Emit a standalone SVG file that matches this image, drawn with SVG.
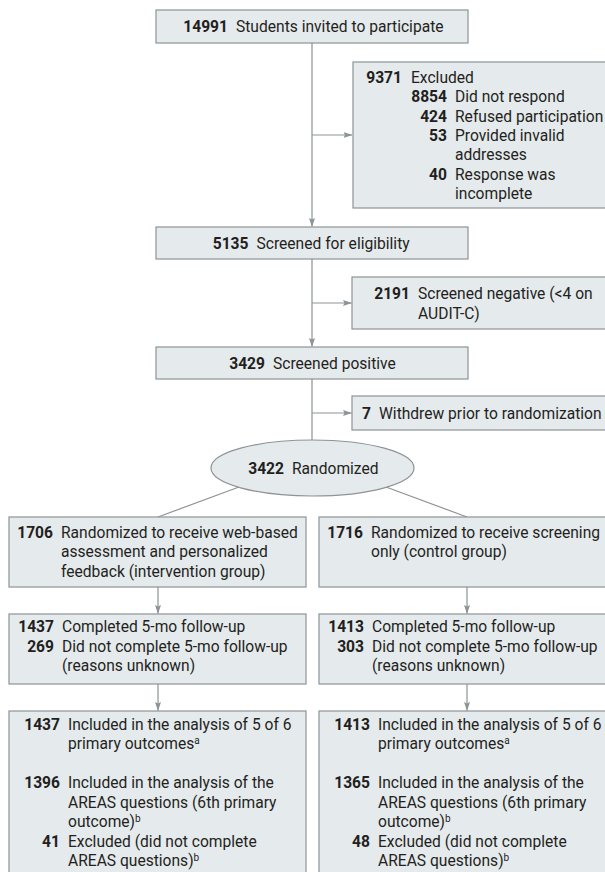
<svg xmlns="http://www.w3.org/2000/svg" width="605" height="872" viewBox="0 0 605 872">
<defs>
<style>
.box{fill:#e5eaed;stroke:#8e9396;stroke-width:1.2}
.ln{fill:none;stroke:#8e9396;stroke-width:1.2}
text{font-family:Roboto,"Liberation Sans",sans-serif;font-size:15.6px;fill:#231f20}
.n{font-weight:bold;text-anchor:end}
.sup{font-size:10px}
</style>
<marker id="ah" markerWidth="9" markerHeight="7" refX="8.5" refY="3.5" orient="auto" markerUnits="userSpaceOnUse">
<path d="M0,0.5 L9,3.5 L0,6.5 L1.5,3.5 z" fill="#8e9396"/>
</marker>
</defs>
<rect width="605" height="872" fill="#ffffff"/>

<g id="connectors">
<path class="ln" d="M312,43 V226.5" marker-end="url(#ah)"/>
<path class="ln" d="M312,135 H352" marker-end="url(#ah)"/>
<path class="ln" d="M312,259 V346.5" marker-end="url(#ah)"/>
<path class="ln" d="M312,303 H351.5" marker-end="url(#ah)"/>
<path class="ln" d="M312,379 V440"/>
<path class="ln" d="M312,413 H351.5" marker-end="url(#ah)"/>
<path class="ln" d="M239,487 L158,517"/>
<path class="ln" d="M386,487 L467,517"/>
<path class="ln" d="M158,587 V613.5" marker-end="url(#ah)"/>
<path class="ln" d="M467,587 V613.5" marker-end="url(#ah)"/>
<path class="ln" d="M158,684 V710.5" marker-end="url(#ah)"/>
<path class="ln" d="M467,684 V710.5" marker-end="url(#ah)"/>
</g>

<g id="invited">
<rect class="box" x="156" y="10" width="312" height="33"/>
<text x="228" y="32" class="n">14991</text>
<text x="236" y="32">Students invited to participate</text>
</g>

<g id="excluded">
<rect class="box" x="353" y="62" width="270" height="146"/>
<text x="402" y="83" class="n">9371</text>
<text x="411" y="83">Excluded</text>
<text x="447" y="102.3" class="n">8854</text>
<text x="455" y="102.3">Did not respond</text>
<text x="447" y="121.6" class="n">424</text>
<text x="455" y="121.6">Refused participation</text>
<text x="447" y="140.9" class="n">53</text>
<text x="455" y="140.9">Provided invalid</text>
<text x="455" y="160.2">addresses</text>
<text x="447" y="179.5" class="n">40</text>
<text x="455" y="179.5">Response was</text>
<text x="455" y="198.8">incomplete</text>
</g>

<g id="screened">
<rect class="box" x="156" y="227" width="312" height="32"/>
<text x="248.5" y="248.5" class="n">5135</text>
<text x="256.5" y="248.5">Screened for eligibility</text>
</g>

<g id="negative">
<rect class="box" x="352" y="277" width="270" height="52"/>
<text x="410" y="299" class="n">2191</text>
<text x="418" y="299">Screened negative (&lt;4 on</text>
<text x="418" y="318.5">AUDIT-C)</text>
</g>

<g id="positive">
<rect class="box" x="156" y="347" width="312" height="32"/>
<text x="265" y="368.5" class="n">3429</text>
<text x="273" y="368.5">Screened positive</text>
</g>

<g id="withdrew">
<rect class="box" x="352" y="396" width="270" height="34"/>
<text x="371" y="418.5" class="n">7</text>
<text x="379" y="418.5">Withdrew prior to randomization</text>
</g>

<g id="randomized">
<ellipse class="box" cx="312.5" cy="468" rx="101.5" ry="28"/>
<text x="284" y="473.5" class="n">3422</text>
<text x="292" y="473.5">Randomized</text>
</g>

<g id="intervention">
<rect class="box" x="9" y="517" width="297" height="70"/>
<text x="53" y="537.5" class="n">1706</text>
<text x="61" y="537.5">Randomized to receive web-based</text>
<text x="61" y="557">assessment and personalized</text>
<text x="61" y="576.5">feedback (intervention group)</text>
</g>

<g id="control">
<rect class="box" x="319" y="517" width="300" height="70"/>
<text x="363" y="537.5" class="n">1716</text>
<text x="371" y="537.5">Randomized to receive screening</text>
<text x="371" y="557">only (control group)</text>
</g>

<g id="followup-intervention">
<rect class="box" x="9" y="614" width="297" height="70"/>
<text x="54" y="632" class="n">1437</text>
<text x="62" y="632">Completed 5-mo follow-up</text>
<text x="54" y="651.5" class="n">269</text>
<text x="62" y="651.5">Did not complete 5-mo follow-up</text>
<text x="62" y="671">(reasons unknown)</text>
</g>

<g id="followup-control">
<rect class="box" x="319" y="614" width="300" height="70"/>
<text x="364" y="632" class="n">1413</text>
<text x="372" y="632">Completed 5-mo follow-up</text>
<text x="364" y="651.5" class="n">303</text>
<text x="372" y="651.5">Did not complete 5-mo follow-up</text>
<text x="372" y="671">(reasons unknown)</text>
</g>

<g id="analysis-intervention">
<rect class="box" x="9" y="711" width="297" height="175"/>
<text x="60" y="729.5" class="n">1437</text>
<text x="68" y="729.5">Included in the analysis of 5 of 6</text>
<text x="68" y="749">primary outcomes<tspan class="sup" dy="-5">a</tspan></text>
<text x="60" y="788" class="n">1396</text>
<text x="68" y="788">Included in the analysis of the</text>
<text x="68" y="807.5">AREAS questions (6th primary</text>
<text x="68" y="827">outcome)<tspan class="sup" dy="-5">b</tspan></text>
<text x="60" y="846.5" class="n">41</text>
<text x="68" y="846.5">Excluded (did not complete</text>
<text x="68" y="866">AREAS questions)<tspan class="sup" dy="-5">b</tspan></text>
</g>

<g id="analysis-control">
<rect class="box" x="319" y="711" width="300" height="175"/>
<text x="370" y="729.5" class="n">1413</text>
<text x="378" y="729.5">Included in the analysis of 5 of 6</text>
<text x="378" y="749">primary outcomes<tspan class="sup" dy="-5">a</tspan></text>
<text x="370" y="788" class="n">1365</text>
<text x="378" y="788">Included in the analysis of the</text>
<text x="378" y="807.5">AREAS questions (6th primary</text>
<text x="378" y="827">outcome)<tspan class="sup" dy="-5">b</tspan></text>
<text x="370" y="846.5" class="n">48</text>
<text x="378" y="846.5">Excluded (did not complete</text>
<text x="378" y="866">AREAS questions)<tspan class="sup" dy="-5">b</tspan></text>
</g>
</svg>
